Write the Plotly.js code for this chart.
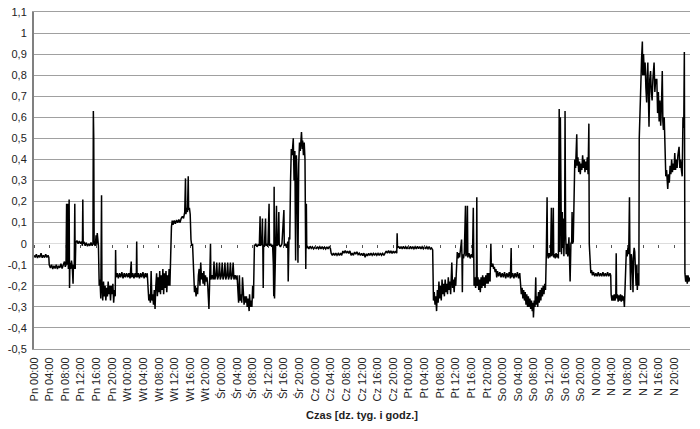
<!DOCTYPE html>
<html>
<head>
<meta charset="utf-8">
<script src="https://cdn.plot.ly/plotly-3.0.1.min.js"></script>
<style>html,body{margin:0;padding:0;background:#fff;}#chart{width:700px;height:429px;}</style>
</head>
<body>
<div id="chart"></div>
<script>
// Day names and hour labels for the x axis
const dayNames = ['Pn', 'Wt', 'Śr', 'Cz', 'Pt', 'So', 'N'];
const hourLabels = ['00:00', '04:00', '08:00', '12:00', '16:00', '20:00'];

// Y axis ticks
const yTickVals = [-0.5, -0.4, -0.3, -0.2, -0.1, 0, 0.1, 0.2, 0.3, 0.4, 0.5, 0.6, 0.7, 0.8, 0.9, 1, 1.1];
const yTickText = ['-0,5', '-0,4', '-0,3', '-0,2', '-0,1', '0', '0,1', '0,2', '0,3', '0,4', '0,5', '0,6', '0,7', '0,8', '0,9', '1', '1,1'];

// Readings: [hour of week, value]
const pn = [[0,-0.055],[0.3,-0.065],[0.6,-0.05],[0.9,-0.068],[1.2,-0.055],[1.5,-0.065],[1.8,-0.045],[2.1,-0.067],[2.4,-0.055],[2.7,-0.066],[3.0,-0.05],[3.3,-0.065],[3.6,-0.055],[3.8,-0.065],
[3.9,-0.1],[4.2,-0.115],[4.5,-0.1],[4.8,-0.12],[5.1,-0.105],[5.4,-0.118],[5.7,-0.1],[6.0,-0.12],[6.3,-0.105],[6.6,-0.115],[6.9,-0.095],[7.2,-0.118],[7.5,-0.1],[7.8,-0.085],[8.0,-0.11],[8.2,-0.1],
[8.35,0.19],[8.45,-0.1],[8.6,0.19],[8.7,-0.08],[8.8,-0.12],[8.9,-0.05],[9.0,0.21],[9.1,-0.21],[9.2,-0.09],[9.4,-0.12],[9.6,-0.08],[9.8,-0.11],[10.0,-0.19],[10.1,-0.1],[10.3,-0.12],[10.45,0.19],[10.55,-0.12],[10.7,0.005],
[11.0,0.015],[11.3,0.0],[11.6,0.012],[11.9,0.0],[12.2,0.01],[12.4,-0.01],[12.5,0.21],[12.6,0.0],[12.8,0.01],[13.1,-0.01],[13.4,0.005],[13.7,-0.012],[14.0,0.0],[14.3,-0.01],[14.6,0.005],[14.9,-0.01],[15.1,0.0],[15.2,0.63],[15.3,0.5],[15.4,0.0],[15.7,-0.01],[15.9,0.04],[16.0,-0.005],[16.2,0.05],[16.35,-0.005],[16.5,-0.01],
[16.7,-0.2],[16.9,-0.17],[17.1,-0.26],[17.3,0.23],[17.4,-0.2],[17.6,-0.27],[17.8,-0.18],[18.0,-0.25],[18.2,-0.2],[18.4,-0.27],[18.6,-0.21],[18.8,-0.25],[19.0,-0.18],[19.2,-0.24],[19.4,-0.2],[19.6,-0.27],[19.8,-0.2],[20.0,-0.24],[20.2,-0.19],[20.4,-0.28],[20.6,-0.22],[20.8,-0.25],[20.9,-0.03],[21.0,-0.16],
[21.3,-0.14],[21.6,-0.165],[21.9,-0.14],[22.2,-0.16],[22.5,-0.135],[22.8,-0.165],[23.1,-0.14],[23.4,-0.16],[23.7,-0.14],[24.0,-0.16]];

const wt = [[24.3,-0.14],[24.6,-0.165],[24.9,-0.085],[25.0,-0.16],[25.3,-0.14],[25.6,-0.165],[25.9,-0.14],[26.2,-0.16],[26.3,0.01],[26.4,-0.16],[26.7,-0.14],[27.0,-0.165],[27.3,-0.14],[27.6,-0.16],[27.9,-0.135],[28.2,-0.165],[28.5,-0.14],[28.8,-0.16],[29.0,-0.14],
[29.2,-0.25],[29.4,-0.27],[29.6,-0.24],[29.8,-0.28],[30.0,-0.13],[30.2,-0.27],[30.4,-0.24],[30.6,-0.29],[30.8,-0.22],[31.0,-0.31],[31.2,-0.2],[31.4,-0.14],[31.6,-0.25],[31.8,-0.16],[32.0,-0.23],[32.2,-0.13],[32.4,-0.24],[32.6,-0.15],[32.8,-0.22],[33.0,-0.12],[33.2,-0.24],[33.4,-0.14],[33.6,-0.21],[33.8,-0.13],[34.0,-0.23],[34.2,-0.15],[34.4,-0.2],[34.6,-0.12],[34.8,-0.2],
[35.0,-0.01],[35.2,0.08],[35.4,0.11],[35.6,0.09],[35.9,0.11],[36.2,0.095],[36.5,0.112],[36.8,0.1],[37.1,0.115],[37.4,0.1],[37.7,0.12],[38.0,0.13],[38.3,0.12],[38.6,0.15],[38.8,0.31],[38.9,0.14],[39.1,0.17],[39.3,0.15],[39.5,0.32],[39.6,0.16],[39.8,0.17],[40.0,0.14],[40.2,0.02],[40.4,-0.01],[40.6,0.0],
[40.9,-0.2],[41.1,-0.23],[41.3,-0.2],[41.5,-0.25],[41.7,-0.21],[41.9,-0.24],[42.1,-0.15],[42.3,-0.12],[42.5,-0.2],[42.7,-0.09],[42.9,-0.17],[43.1,-0.14],[43.3,-0.19],[43.5,-0.13],[43.7,-0.2],[43.9,-0.15],[44.1,-0.18],[44.3,-0.16],[44.5,-0.2],[44.8,-0.31],[45.0,-0.17],[45.2,0.0],[45.3,-0.17],
[45.6,-0.15],[45.9,-0.17],[46.1,-0.085],[46.3,-0.17],[46.6,-0.15],[46.8,-0.09],[47.0,-0.17],[47.3,-0.15],[47.5,-0.09],[47.7,-0.17],[48.0,-0.15]];

const sr = [[48.2,-0.09],[48.4,-0.17],[48.7,-0.15],[48.9,-0.09],[49.1,-0.17],[49.4,-0.15],[49.6,-0.09],[49.8,-0.17],[50.1,-0.15],[50.3,-0.09],[50.5,-0.17],[50.8,-0.15],[51.0,-0.09],[51.2,-0.17],[51.5,-0.15],[51.8,-0.17],[52.0,-0.15],
[52.2,-0.25],[52.4,-0.28],[52.6,-0.15],[52.8,-0.27],[53.0,-0.24],[53.2,-0.28],[53.4,-0.16],[53.6,-0.26],[53.8,-0.29],[54.0,-0.25],[54.2,-0.28],[54.4,-0.25],[54.6,-0.3],[54.8,-0.26],[55.1,-0.32],[55.2,-0.24],[55.4,-0.3],[55.6,-0.27],[55.8,-0.3],[56.0,-0.2],[56.2,-0.26],
[56.45,-0.005],[56.6,-0.01],[56.8,0.0],[57.1,-0.015],[57.4,-0.005],[57.7,-0.01],[57.9,0.13],[58.0,-0.01],[58.3,0.0],[58.5,0.12],[58.6,-0.01],[58.7,-0.21],[58.8,-0.005],[59.0,-0.015],[59.3,0.12],[59.4,-0.01],[59.6,0.0],[59.9,-0.015],[60.2,0.19],[60.3,-0.01],[60.6,0.0],[60.9,-0.015],[61.1,-0.005],[61.3,-0.1],[61.4,-0.25],[61.5,0.27],[61.6,-0.26],[61.8,-0.01],[61.95,0.0],[62.1,0.18],[62.2,-0.01],[62.5,0.0],[62.7,0.15],[62.8,-0.005],[63.1,-0.015],[63.5,0.0],[64.0,0.16],[64.1,-0.01],[64.4,0.0],[64.7,-0.02],[65.0,0.01],[65.1,-0.18],[65.3,0.03],[65.5,0.02],
[65.7,0.3],[65.9,0.45],[66.1,0.42],[66.4,0.5],[66.6,0.3],[66.8,0.44],[67.0,-0.08],[67.2,0.42],[67.4,0.3],[67.6,-0.09],[67.8,0.38],[68.0,0.48],[68.2,0.44],[68.5,0.53],[68.7,0.45],[68.8,0.49],[69.0,0.42],[69.2,0.48],[69.4,0.4],[69.6,-0.12],[69.75,0.19],[69.85,-0.02],
[70.1,-0.015],[70.4,-0.025],[70.7,-0.012],[71.0,-0.022],[71.3,-0.015],[71.6,-0.025],[72.0,-0.015]];

const cz = [[72.3,-0.025],[72.6,-0.014],[72.9,-0.024],[73.2,-0.015],[73.5,-0.025],[73.8,-0.014],[74.1,-0.024],[74.4,-0.016],[74.7,-0.025],[75.0,-0.015],[75.3,-0.025],[75.6,-0.015],[75.9,-0.022],
[76.1,-0.045],[76.4,-0.055],[76.7,-0.045],[77.0,-0.056],[77.3,-0.045],[77.6,-0.055],[77.9,-0.046],[78.2,-0.056],[78.5,-0.045],[78.8,-0.055],[79.1,-0.035],[79.4,-0.045],[79.7,-0.033],[80.0,-0.045],[80.3,-0.035],[80.6,-0.046],[80.9,-0.034],[81.2,-0.055],[81.5,-0.045],[81.8,-0.055],[82.1,-0.04],[82.4,-0.05],[82.7,-0.038],[83.0,-0.052],[83.3,-0.045],[83.6,-0.056],[83.9,-0.046],[84.2,-0.057],[84.5,-0.045],[84.8,-0.065],[85.1,-0.048],[85.4,-0.058],[85.7,-0.046],[86.0,-0.056],[86.3,-0.045],[86.6,-0.055],[86.9,-0.046],[87.2,-0.056],[87.5,-0.045],[87.8,-0.055],[88.1,-0.046],[88.4,-0.056],[88.7,-0.045],[89.0,-0.055],[89.3,-0.046],[89.6,-0.056],[89.9,-0.045],[90.2,-0.035],[90.5,-0.045],[90.8,-0.033],[91.1,-0.045],[91.4,-0.034],[91.7,-0.046],[92.0,-0.035],[92.3,-0.045],[92.6,-0.035],[92.9,-0.045],
[93.0,0.05],[93.1,-0.02],[93.4,-0.012],[93.7,-0.024],[94.0,-0.014],[94.3,-0.025],[94.6,-0.013],[94.9,-0.024],[95.2,-0.015],[95.5,-0.025],[95.8,-0.014]];

const pt = [[96.1,-0.025],[96.4,-0.013],[96.7,-0.025],[97.0,-0.014],[97.3,-0.024],[97.6,-0.015],[97.9,-0.025],[98.2,-0.012],[98.5,-0.024],[98.8,-0.014],[99.1,-0.025],[99.4,-0.015],[99.7,-0.024],[100.0,-0.014],[100.3,-0.025],[100.6,-0.015],[100.9,-0.024],[101.2,-0.014],[101.5,-0.025],[101.8,-0.02],[102.1,-0.03],
[102.3,-0.27],[102.5,-0.23],[102.7,-0.29],[102.9,-0.25],[103.1,-0.32],[103.3,-0.22],[103.5,-0.28],[103.7,-0.18],[103.9,-0.26],[104.1,-0.2],[104.3,-0.27],[104.5,-0.17],[104.7,-0.24],[104.9,-0.19],[105.1,-0.25],[105.3,-0.17],[105.5,-0.23],[105.7,-0.19],[105.9,-0.24],[106.1,-0.16],[106.3,-0.22],[106.5,-0.18],[106.7,-0.24],[106.9,-0.15],[107.0,-0.09],[107.2,-0.21],[107.4,-0.17],[107.6,-0.23],[107.8,-0.16],[108.0,-0.2],
[108.2,-0.06],[108.4,-0.04],[108.6,-0.07],[108.8,-0.045],[109.0,-0.065],[109.2,-0.04],[109.5,0.02],[109.6,-0.06],[109.7,-0.23],[109.8,-0.05],[110.0,-0.07],[110.2,-0.045],[110.5,0.18],[110.6,-0.06],[110.8,-0.045],[111.0,0.18],[111.1,-0.065],[111.4,-0.045],[111.7,-0.07],[112.0,-0.05],[112.3,-0.065],[112.5,0.17],[112.6,-0.05],[112.7,-0.2],
[112.9,-0.16],[113.1,-0.21],[113.3,-0.15],[113.4,0.22],[113.5,-0.2],[113.7,-0.16],[113.9,-0.22],[114.1,-0.17],[114.3,-0.23],[114.5,-0.16],[114.7,-0.21],[114.9,-0.15],[115.1,-0.2],[115.3,-0.16],[115.5,-0.21],[115.7,-0.15],[115.9,-0.19],[116.1,-0.14],[116.3,-0.19],[116.5,-0.14],[116.8,-0.18],
[117.0,0.0],[117.1,-0.09],[117.3,-0.11],[117.5,-0.095],[117.7,-0.12],[117.9,-0.11],[118.1,-0.135],[118.3,-0.12],[118.5,-0.16],[118.7,-0.13],[119.0,-0.155],[119.3,-0.135],[119.6,-0.16],[119.9,-0.14]];

const so = [[120.2,-0.16],[120.5,-0.135],[120.8,-0.165],[121.1,-0.14],[121.4,-0.16],[121.7,-0.135],[122.0,-0.165],[122.2,-0.02],[122.3,-0.16],[122.6,-0.14],[122.9,-0.165],[123.2,-0.14],[123.5,-0.16],[123.8,-0.135],[124.1,-0.165],[124.4,-0.14],
[124.6,-0.2],[124.8,-0.24],[125.0,-0.21],[125.2,-0.26],[125.4,-0.22],[125.6,-0.27],[125.8,-0.23],[126.0,-0.29],[126.2,-0.24],[126.4,-0.3],[126.6,-0.25],[126.8,-0.3],[127.0,-0.26],[127.2,-0.31],[127.4,-0.27],[127.6,-0.32],[127.8,-0.28],[127.9,-0.35],[128.1,-0.27],[128.3,-0.3],[128.5,-0.16],[128.6,-0.29],[128.8,-0.25],[129.0,-0.3],[129.2,-0.23],[129.4,-0.28],[129.6,-0.22],[129.8,-0.27],[130.0,-0.21],[130.2,-0.25],[130.4,-0.2],[130.6,-0.24],[130.8,-0.19],[131.0,-0.22],
[131.2,-0.05],[131.4,0.22],[131.5,-0.05],[131.7,-0.07],[131.9,-0.045],[132.1,-0.065],[132.3,-0.05],[132.5,0.17],[132.6,-0.06],[132.8,-0.045],[133.0,0.17],[133.1,-0.065],[133.3,-0.05],[133.5,-0.07],[133.7,-0.045],[133.9,-0.065],[134.1,-0.05],[134.3,-0.07],
[134.5,0.64],[134.65,-0.04],[134.8,0.6],[134.95,0.1],[135.1,-0.05],[135.3,0.15],[135.4,-0.02],[135.6,0.12],[135.7,-0.06],[135.9,0.1],[136.0,0.63],[136.15,0.05],[136.3,-0.05],[136.5,0.0],[136.7,-0.06],[137.0,0.03],[137.2,-0.1],[137.3,-0.18],[137.5,0.0],[137.7,0.01],[137.8,0.15],[137.9,0.0],[138.1,0.01],
[138.3,0.35],[138.5,0.4],[138.7,0.36],[138.9,0.43],[139.0,0.52],[139.1,0.37],[139.3,0.41],[139.5,0.34],[139.7,0.39],[139.9,0.33],[140.1,0.38],[140.3,0.35],[140.5,0.42],[140.7,0.36],[140.9,0.4],[141.1,0.34],[141.3,0.39],[141.5,0.35],[141.7,0.41],[141.9,0.33],[142.1,0.57],[142.2,0.0],
[142.4,-0.12],[142.6,-0.14],[142.8,-0.125],[143.0,-0.15],[143.3,-0.135],[143.6,-0.155],[143.9,-0.14]];

const nd = [[144.2,-0.155],[144.5,-0.135],[144.8,-0.155],[145.1,-0.14],[145.4,-0.155],[145.7,-0.135],[146.0,-0.155],[146.3,-0.14],[146.6,-0.155],[146.9,-0.135],[147.2,-0.155],[147.5,-0.14],[147.7,-0.15],
[147.8,-0.24],[148.0,-0.27],[148.2,-0.245],[148.4,-0.27],[148.6,-0.24],[148.8,-0.27],[149.0,-0.245],[149.1,-0.045],[149.2,-0.26],[149.4,-0.24],[149.6,-0.275],[149.8,-0.245],[150.0,-0.27],[150.2,-0.24],[150.4,-0.275],[150.6,-0.245],[150.8,-0.27],[151.0,-0.25],[151.2,-0.3],
[151.5,-0.05],[151.7,-0.03],[151.9,-0.06],[152.1,-0.02],[152.3,-0.05],[152.5,0.22],[152.6,-0.04],[152.8,-0.22],[152.95,-0.05],[153.1,-0.07],[153.3,-0.15],[153.4,-0.23],[153.55,-0.05],[153.7,-0.02],[153.85,-0.04],[154.0,-0.15],[154.2,-0.2],[154.4,-0.1],[154.5,-0.22],[154.7,-0.14],[154.9,-0.2],
[155.0,0.5],[155.2,0.69],[155.4,0.75],[155.6,0.88],[155.8,0.96],[155.9,0.8],[156.1,0.9],[156.3,0.8],[156.5,0.86],[156.7,0.74],[156.9,0.67],[157.05,0.8],[157.2,0.86],[157.35,0.7],[157.5,0.555],[157.7,0.78],[157.9,0.82],[158.1,0.72],[158.3,0.68],[158.5,0.78],[158.8,0.86],[159.0,0.72],[159.2,0.78],[159.5,0.78],[159.7,0.62],[159.9,0.72],[160.1,0.58],[160.3,0.68],[160.5,0.56],[160.7,0.66],[160.9,0.82],[161.05,0.58],[161.2,0.54],[161.4,0.6],
[161.6,0.43],[161.8,0.32],[162.0,0.35],[162.3,0.26],[162.5,0.33],[162.7,0.29],[162.9,0.37],[163.1,0.33],[163.3,0.4],[163.5,0.34],[163.7,0.38],[163.9,0.35],[164.1,0.43],[164.3,0.35],[164.5,0.4],[164.7,0.36],[164.9,0.42],[165.2,0.46],[165.4,0.36],[165.6,0.4],[165.8,0.35],[166.0,0.32],[166.2,0.6],[166.4,0.55],[166.55,0.91],
[166.7,-0.14],[166.9,-0.18],[167.1,-0.15],[167.3,-0.19],[167.5,-0.15],[167.7,-0.18],[168,-0.16]];

const series = [].concat(pn, wt, sr, cz, pt, so, nd);
const xs = series.map(p => p[0]);
const ys = series.map(p => p[1]);

const xTickText = [];
const xTickVals = [];
dayNames.forEach((d, di) => hourLabels.forEach((h, hi) => {
  xTickText.push(d + ' ' + h);
  xTickVals.push(di * 24 + hi * 4);
}));

const FONT = 'Liberation Sans, Arial, sans-serif';

const traces = [
  {x: xs, y: ys, type: 'scatter', mode: 'lines', line: {color: '#000000', width: 1.5}, hoverinfo: 'skip', showlegend: false},
  {x: xs, y: ys, xaxis: 'x2', type: 'scatter', mode: 'lines', line: {color: 'rgba(0,0,0,0)', width: 0}, hoverinfo: 'skip', showlegend: false}
];

const layout = {
  width: 700, height: 429,
  margin: {l: 34, r: 10, t: 12, b: 80},
  paper_bgcolor: '#ffffff', plot_bgcolor: '#ffffff',
  font: {family: FONT, size: 11, color: '#222222'},
  showlegend: false,
  xaxis: {
    range: [0, 168], tickmode: 'array', tickvals: xTickVals, ticktext: xTickText,
    tickangle: -90, showgrid: false, zeroline: false,
    showline: true, linecolor: '#a0a0a0', linewidth: 1, mirror: true,
    ticks: 'outside', ticklen: 3, tickcolor: 'rgba(0,0,0,0)',
    tickfont: {family: FONT, size: 11, color: '#222'},
    title: {text: '<b>Czas [dz. tyg. i godz.]</b>', font: {family: FONT, size: 11, color: '#222'}, standoff: 10},
    automargin: false, fixedrange: true
  },
  xaxis2: {
    overlaying: 'x', matches: 'x', anchor: 'free', position: 0.3125, side: 'bottom',
    range: [0, 168], tickmode: 'array', tickvals: xTickVals, showticklabels: false,
    ticks: 'outside', ticklen: 3, tickwidth: 1, tickcolor: '#555',
    showgrid: false, zeroline: false, showline: false, fixedrange: true
  },
  yaxis: {
    range: [-0.5, 1.1], tickmode: 'array', tickvals: yTickVals, ticktext: yTickText,
    showgrid: true, gridcolor: '#a0a0a0', gridwidth: 1,
    zeroline: true, zerolinecolor: '#dddddd', zerolinewidth: 1,
    showline: true, linecolor: '#808080', linewidth: 2,
    ticks: 'outside', ticklen: 3, tickcolor: 'rgba(0,0,0,0)',
    tickfont: {family: FONT, size: 11, color: '#222'},
    automargin: false, fixedrange: true
  }
};

Plotly.newPlot('chart', traces, layout, {staticPlot: true, displayModeBar: false});
</script>
</body>
</html>
